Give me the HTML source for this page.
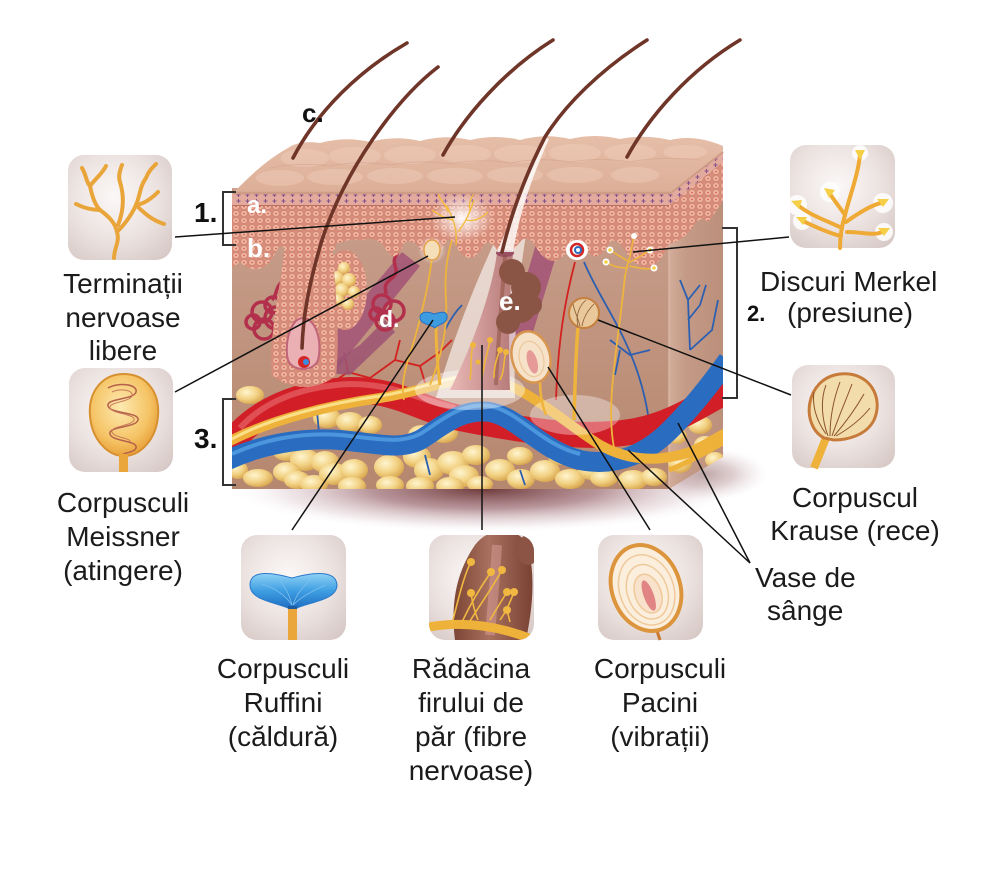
<!DOCTYPE html>
<html><head><meta charset="utf-8"><style>
html,body{margin:0;padding:0;background:#fff;}
svg{display:block;}
text{font-family:"Liberation Sans",Arial,sans-serif;}
</style></head><body>
<svg width="1000" height="870" viewBox="0 0 1000 870" xmlns="http://www.w3.org/2000/svg">
<defs>
 <pattern id="cells" width="8" height="7" patternUnits="userSpaceOnUse">
  <rect width="8" height="7" fill="#d88e7a"/>
  <ellipse cx="4" cy="3.5" rx="3.3" ry="3" fill="#efb5a0" stroke="#c97c6d" stroke-width="0.6"/>
  <circle cx="4" cy="3.5" r="0.8" fill="#c8503e"/>
 </pattern>
 <pattern id="stripe" width="9" height="6" patternUnits="userSpaceOnUse">
  <rect width="9" height="6" fill="#e3ab9d"/>
  <path d="M4.5,1 V5 M2.5,3 H6.5" stroke="#85528e" stroke-width="1.1"/>
 </pattern>
 <linearGradient id="derm" x1="0" y1="0" x2="0" y2="1">
  <stop offset="0" stop-color="#c9a08d"/><stop offset="1" stop-color="#b6876f"/>
 </linearGradient>
 <linearGradient id="side" x1="0" y1="0" x2="1" y2="0">
  <stop offset="0" stop-color="#d2ad9a"/><stop offset="0.3" stop-color="#c49b87"/><stop offset="1" stop-color="#bb8f7a"/>
 </linearGradient>
 <linearGradient id="topg" x1="0" y1="0" x2="0" y2="1">
  <stop offset="0" stop-color="#e6bea8"/><stop offset="1" stop-color="#dcae97"/>
 </linearGradient>
 <radialGradient id="fat" cx="0.38" cy="0.35" r="0.7">
  <stop offset="0" stop-color="#fff5cf"/><stop offset="0.55" stop-color="#f2d284"/><stop offset="1" stop-color="#d6a24a"/>
 </radialGradient>
 <radialGradient id="shadow" cx="0.5" cy="0.5" r="0.5">
  <stop offset="0" stop-color="#5e2424" stop-opacity="0.9"/>
  <stop offset="0.45" stop-color="#8a5058" stop-opacity="0.6"/>
  <stop offset="0.8" stop-color="#c8a8b0" stop-opacity="0.25"/>
  <stop offset="1" stop-color="#ffffff" stop-opacity="0"/>
 </radialGradient>
 <radialGradient id="boxbg" cx="0.45" cy="0.4" r="0.75">
  <stop offset="0" stop-color="#fbf8f7"/><stop offset="0.55" stop-color="#ece3e1"/><stop offset="1" stop-color="#d6c8c5"/>
 </radialGradient>
 <radialGradient id="glow" cx="0.5" cy="0.5" r="0.5">
  <stop offset="0" stop-color="#fff" stop-opacity="0.95"/><stop offset="1" stop-color="#fff" stop-opacity="0"/>
 </radialGradient>
 <radialGradient id="meis" cx="0.45" cy="0.4" r="0.6">
  <stop offset="0" stop-color="#fde9b0"/><stop offset="0.7" stop-color="#f5c466"/><stop offset="1" stop-color="#e9a23c"/>
 </radialGradient>
 <linearGradient id="ruff" x1="0" y1="0" x2="0" y2="1">
  <stop offset="0" stop-color="#8fd2f6"/><stop offset="0.5" stop-color="#3f9ee2"/><stop offset="1" stop-color="#1f6fc4"/>
 </linearGradient>
 <linearGradient id="fol" x1="0" y1="0" x2="1" y2="0">
  <stop offset="0" stop-color="#e9b8b6"/><stop offset="1" stop-color="#b57a78"/>
 </linearGradient>
 <linearGradient id="root" x1="0" y1="0" x2="1" y2="0">
  <stop offset="0" stop-color="#7c4534"/><stop offset="0.45" stop-color="#a8705e"/><stop offset="1" stop-color="#7a4233"/>
 </linearGradient>
 <clipPath id="block"><polygon points="232,188 669,188 723,146 723,457 669,489 232,489"/></clipPath>
 <clipPath id="c6"><rect x="429" y="535" width="105" height="105" rx="16"/></clipPath>
</defs>

<!-- shadow under block -->
<ellipse cx="485" cy="489" rx="255" ry="44" fill="url(#shadow)"/>
<ellipse cx="705" cy="474" rx="65" ry="28" fill="url(#shadow)" opacity="0.45"/>

<g clip-path="url(#block)">
 <rect x="232" y="188" width="437" height="302" fill="url(#derm)"/>
 <polygon points="669,190 723,148 723,457 669,489" fill="url(#side)"/>
 <line x1="669" y1="190" x2="669" y2="489" stroke="#d9b6a3" stroke-width="1.5"/>

 <g fill="url(#fat)">
  <ellipse cx="250" cy="395" rx="14" ry="9"/>
  <ellipse cx="327" cy="418" rx="14" ry="10"/><ellipse cx="350" cy="422" rx="14" ry="10"/><ellipse cx="370" cy="425" rx="12" ry="9"/>
  <ellipse cx="238" cy="470" rx="10" ry="9"/>
  <ellipse cx="287" cy="450" rx="15" ry="11"/><ellipse cx="305" cy="460" rx="15" ry="11"/><ellipse cx="325" cy="462" rx="14" ry="11"/>
  <ellipse cx="287" cy="472" rx="14" ry="10"/><ellipse cx="258" cy="478" rx="15" ry="9"/><ellipse cx="297" cy="480" rx="13" ry="9"/>
  <ellipse cx="314" cy="484" rx="14" ry="9"/><ellipse cx="334" cy="474" rx="15" ry="11"/><ellipse cx="354" cy="470" rx="14" ry="11"/>
  <ellipse cx="352" cy="486" rx="14" ry="9"/><ellipse cx="389" cy="467" rx="15" ry="12"/><ellipse cx="390" cy="485" rx="14" ry="9"/>
  <ellipse cx="417" cy="457" rx="14" ry="11"/><ellipse cx="429" cy="470" rx="15" ry="12"/><ellipse cx="420" cy="486" rx="14" ry="9"/>
  <ellipse cx="453" cy="463" rx="16" ry="12"/><ellipse cx="464" cy="476" rx="15" ry="11"/><ellipse cx="450" cy="486" rx="14" ry="9"/>
  <ellipse cx="476" cy="455" rx="14" ry="10"/><ellipse cx="422" cy="435" rx="14" ry="10"/><ellipse cx="444" cy="433" rx="14" ry="10"/>
  <ellipse cx="500" cy="470" rx="15" ry="11"/><ellipse cx="521" cy="479" rx="14" ry="10"/><ellipse cx="545" cy="471" rx="15" ry="11"/>
  <ellipse cx="570" cy="479" rx="15" ry="10"/><ellipse cx="592" cy="470" rx="14" ry="10"/><ellipse cx="607" cy="440" rx="14" ry="10"/>
  <ellipse cx="633" cy="480" rx="15" ry="10"/><ellipse cx="654" cy="477" rx="13" ry="9"/><ellipse cx="604" cy="478" rx="14" ry="9"/>
  <ellipse cx="520" cy="456" rx="13" ry="9"/><ellipse cx="560" cy="456" rx="12" ry="9"/><ellipse cx="480" cy="484" rx="13" ry="8"/>
  <ellipse cx="680" cy="463" rx="12" ry="10"/><ellipse cx="700" cy="425" rx="12" ry="9"/><ellipse cx="705" cy="445" rx="11" ry="9"/>
  <ellipse cx="677" cy="436" rx="10" ry="8"/><ellipse cx="715" cy="460" rx="10" ry="8"/>
 </g>

 <g stroke="#d2221f" stroke-width="1.8" fill="none">
  <path d="M325,388 L348,372 L370,378 L395,360 L420,366 L440,352"/>
  <path d="M348,372 L344,352 M395,360 L400,340 M370,378 L378,392 M420,366 L426,386 M440,352 L452,340"/>
  <path d="M575,262 C565,300 558,340 556,400"/>
 </g>
 <g stroke="#2d5fb0" stroke-width="1.8" fill="none">
  <path d="M312,360 C315,390 318,420 320,445"/>
  <path d="M584,262 C600,300 625,330 640,380 C646,400 650,420 650,440"/>
  <path d="M445,330 C450,320 455,312 462,305"/>
  <path d="M690,350 L688,300 L680,280 M688,300 L700,285 M688,320 L700,305 L706,285 M690,350 L712,330 L718,300"/>
  <path d="M610,340 L630,355 L650,350 M620,350 L615,375"/>
  <path d="M425,455 L430,475 M520,470 L525,485"/>
 </g>

 <path d="M228,447 C255,410 300,392 350,390 C400,390 420,410 460,418 C520,430 580,440 630,432 C670,426 700,405 728,390" fill="none" stroke="#d21f27" stroke-width="26"/>
 <path d="M240,428 C265,400 305,386 350,384 C395,384 420,400 455,408" fill="none" stroke="#e9777a" stroke-width="6" opacity="0.55"/>
 <path d="M228,460 C260,445 300,437 340,440 C380,444 400,450 420,440 C440,428 460,408 490,412 C520,418 540,450 580,460 C620,468 650,450 670,430 C690,410 710,385 728,360" fill="none" stroke="#2a6cc0" stroke-width="20"/>
 <path d="M232,454 C262,440 300,432 340,435 C380,439 400,444 420,434 C440,422 460,402 490,406 C520,412 540,444 580,454" fill="none" stroke="#5aa8ea" stroke-width="4" opacity="0.7"/>
 <path d="M228,442 C270,420 330,405 380,398 C420,392 450,378 480,378 C520,380 560,420 600,445 C630,462 660,462 690,452 C705,446 715,438 728,432" fill="none" stroke="#eeb23a" stroke-width="10"/>
 <path d="M232,439 C270,418 330,403 380,396 C420,390 450,375 480,375" fill="none" stroke="#fbe08a" stroke-width="3"/>
 <path d="M669,470 C690,462 710,450 728,440" fill="none" stroke="#eeb23a" stroke-width="5"/>

 <ellipse cx="470" cy="390" rx="55" ry="20" fill="#fff" opacity="0.4"/>
 <ellipse cx="575" cy="415" rx="45" ry="20" fill="#fff" opacity="0.35"/>

 <path d="M322,348 L402,252 L420,266 L338,368 Z" fill="#a45777" opacity="0.9"/>
 <path d="M318,372 L360,345 L385,320 L395,332 L350,375 Z" fill="#9c5272" opacity="0.85"/>
 <path d="M536,244 L556,256 L524,362 L505,350 Z" fill="#a45777" opacity="0.9"/>

 <g stroke="#b3304d" stroke-width="3.5" fill="none">
  <path d="M288,170 c-6,8 6,14 0,22 s6,14 0,22 s6,14 0,22 s6,14 0,22 s6,14 -4,22 s-6,14 -12,20"/>
  <path d="M396,168 c-6,8 6,14 0,22 s6,14 0,22 s6,14 0,22 s6,14 0,22 s6,14 -4,22 s-6,10 -6,16"/>
  <circle cx="262" cy="312" r="10"/><circle cx="276" cy="318" r="11"/><circle cx="264" cy="329" r="10"/><circle cx="273" cy="305" r="8"/><circle cx="253" cy="322" r="7"/>
  <circle cx="382" cy="304" r="9"/><circle cx="394" cy="311" r="10"/><circle cx="385" cy="321" r="9"/><circle cx="376" cy="314" r="6"/>
 </g>

 <ellipse cx="345" cy="290" rx="22" ry="40" fill="url(#cells)"/>
 <g fill="url(#fat)">
  <circle cx="337" cy="278" r="7"/><circle cx="349" cy="280" r="7"/><circle cx="342" cy="290" r="7"/><circle cx="354" cy="292" r="6"/>
  <circle cx="338" cy="300" r="6"/><circle cx="348" cy="304" r="6"/><circle cx="344" cy="268" r="6"/>
 </g>

 <path d="M285,245 L332,245 C336,290 340,340 336,376 Q305,398 272,376 C268,340 280,290 285,245 Z" fill="url(#cells)"/>
 <path d="M303,318 C318,320 322,345 318,360 C314,372 292,372 288,360 C284,345 290,318 303,318 Z" fill="#eab0b4" stroke="#c06478" stroke-width="2"/>
 <circle cx="304" cy="362" r="6" fill="#d42626"/><circle cx="306" cy="362" r="3" fill="#3a8ce0"/>

 <path d="M545,137 C520,190 470,280 436,398 L515,398 C512,300 528,200 549,139 Z" fill="#fff" opacity="0.6"/>
 <path d="M497,253 C492,290 475,340 450,390 L510,390 C508,340 510,290 513,253 Z" fill="url(#fol)"/>
 <ellipse cx="505" cy="253" rx="9" ry="4" fill="#9a5062"/>
 <path d="M505,255 C502,300 498,340 496,385" stroke="#8a4c3c" stroke-width="4" opacity="0.5" fill="none"/>
 <g fill="#8b5545">
  <circle cx="512" cy="272" r="13"/><circle cx="526" cy="287" r="15"/><circle cx="520" cy="307" r="16"/><circle cx="508" cy="322" r="12"/><circle cx="532" cy="305" r="10"/>
 </g>
 <g stroke="#f1b73c" stroke-width="1.6" fill="none">
  <path d="M470,380 C472,365 470,355 473,345 M482,378 C484,362 488,352 490,340 M494,378 C494,365 497,358 500,350 M500,380 C505,370 503,362 506,352"/>
 </g>
 <g fill="#f1b73c"><circle cx="473" cy="345" r="3"/><circle cx="490" cy="340" r="3"/><circle cx="500" cy="350" r="3"/><circle cx="506" cy="352" r="3"/><circle cx="478" cy="362" r="2.5"/></g>

 <g stroke="#efb43c" stroke-width="1.8" fill="none">
  <path d="M432,258 C428,290 418,330 408,360 C402,380 402,392 404,400"/>
  <path d="M456,228 C448,250 444,270 446,300 C448,330 440,360 430,385"/>
  <path d="M625,275 C622,310 615,350 612,390 C610,420 612,440 615,452"/>
  <path d="M578,328 C576,350 575,380 574,420" stroke-width="3.5"/>
  <path d="M436,322 C436,345 438,370 440,385" stroke-width="3"/>
  <path d="M540,382 C540,395 542,405 546,415" stroke-width="2.5"/>
 </g>

 <path d="M232,190 L669,190 L723,148 L723,200 Q716,212 708,222 Q700,214 692,228 Q684,240 669,244 Q648,290 622,246 Q615,238 610,242 Q596,268 582,246 Q578,238 572,244 Q553,278 534,244 Q528,236 522,240 L513,250 L497,250 Q492,240 484,244 Q470,272 455,244 Q450,236 446,242 Q432,270 418,246 Q410,238 404,243 Q395,268 384,246 Q376,236 362,240 Q350,238 336,244 L335,250 L286,250 Q282,244 278,248 Q262,282 240,262 L232,268 Z" fill="url(#cells)"/>
 <polygon points="232,192 669,192 723,150 723,162 669,205 232,205" fill="url(#stripe)"/>
 <line x1="232" y1="205.5" x2="669" y2="205.5" stroke="#b97060" stroke-width="1"/>

 <ellipse cx="462" cy="218" rx="32" ry="24" fill="url(#glow)"/>
 <g stroke="#f3bd3f" stroke-width="1.4" fill="none">
  <path d="M456,245 C458,230 452,215 446,205 M458,232 C466,222 470,212 474,200 M452,220 C444,218 438,214 432,210 M466,220 C474,222 482,218 488,212 M470,210 C468,202 472,196 476,190 M448,212 C446,204 440,200 438,194"/>
 </g>

 <ellipse cx="432" cy="250" rx="14" ry="14" fill="url(#glow)"/>
 <ellipse cx="432" cy="250" rx="8" ry="10" fill="#f5dfb8" stroke="#e6a24a" stroke-width="1.5"/>
 <path d="M420,318 C420,310 430,312 434,314 C440,312 448,310 447,318 C446,324 438,324 435,328 C430,324 420,324 420,318 Z" fill="#3d9be0" stroke="#2470c0" stroke-width="1"/>
 <ellipse cx="577" cy="250" rx="11" ry="10" fill="#fff"/>
 <circle cx="577" cy="250" r="6" fill="none" stroke="#d42626" stroke-width="2.5"/>
 <circle cx="578" cy="250" r="3" fill="none" stroke="#2a6cc0" stroke-width="2"/>
 <circle cx="584" cy="313" r="15" fill="#e9c89b" stroke="#c58040" stroke-width="2"/>
 <path d="M578,326 C575,315 580,305 586,300 M582,326 C584,315 590,308 594,304 M580,326 C578,318 574,310 573,304" stroke="#8a5a30" stroke-width="0.8" fill="none"/>
 <g transform="rotate(-15 531 357)">
  <ellipse cx="531" cy="357" rx="19" ry="26" fill="#f6e2c8" stroke="#d89550" stroke-width="2.5"/>
  <ellipse cx="531" cy="359" rx="12" ry="18" fill="none" stroke="#ecc79c" stroke-width="1.2"/>
  <ellipse cx="531" cy="362" rx="5" ry="12" fill="#e59a98"/>
 </g>
 <g stroke="#efb43c" stroke-width="1.6" fill="none">
  <path d="M625,278 C626,268 628,262 630,256 L634,236 M630,262 C622,258 616,254 610,250 M630,262 C638,258 644,254 650,250 M628,268 C618,268 612,266 606,262 M629,266 C640,268 646,270 654,268"/>
 </g>
 <g fill="#fff"><circle cx="634" cy="236" r="3"/><circle cx="610" cy="250" r="3.5"/><circle cx="650" cy="250" r="3.5"/><circle cx="606" cy="262" r="3.5"/><circle cx="654" cy="268" r="3.5"/></g>
 <g fill="#f5d347"><circle cx="610" cy="250" r="1.8"/><circle cx="650" cy="250" r="1.8"/><circle cx="606" cy="262" r="1.8"/><circle cx="654" cy="268" r="1.8"/></g>
</g>

<!-- top surface -->
<path d="M233,193 C248,178 266,160 288,148 Q300,140 320,143 Q345,136 370,142 Q395,135 420,141 Q445,134 470,140 Q495,134 520,140 Q545,133 570,139 Q595,133 620,139 Q645,134 670,140 Q695,134 723,146 L723,152 L671,194 L233,194 Z" fill="url(#topg)"/>
<g fill="#f2d2bf" opacity="0.4">
 <ellipse cx="305" cy="158" rx="24" ry="9"/><ellipse cx="355" cy="156" rx="26" ry="9"/><ellipse cx="410" cy="155" rx="26" ry="9"/>
 <ellipse cx="465" cy="154" rx="26" ry="9"/><ellipse cx="520" cy="154" rx="26" ry="9"/><ellipse cx="575" cy="153" rx="26" ry="9"/>
 <ellipse cx="630" cy="153" rx="26" ry="9"/><ellipse cx="685" cy="152" rx="22" ry="7"/>
 <ellipse cx="280" cy="178" rx="24" ry="8"/><ellipse cx="335" cy="177" rx="28" ry="8"/><ellipse cx="395" cy="176" rx="28" ry="8"/>
 <ellipse cx="455" cy="176" rx="28" ry="8"/><ellipse cx="515" cy="175" rx="28" ry="8"/><ellipse cx="575" cy="175" rx="28" ry="8"/>
 <ellipse cx="635" cy="175" rx="24" ry="8"/>
</g>
<g stroke="#d4a48e" stroke-width="1" fill="none" opacity="0.6">
 <path d="M270,168 Q300,162 330,166 Q360,160 390,165 Q420,159 450,164 Q480,158 510,163 Q540,157 570,162 Q600,157 630,162 Q660,156 700,160"/>
</g>
<path d="M233,193 L671,193" stroke="#cf9c86" stroke-width="2.5"/>
<path d="M671,193 L723,152" stroke="#cf9c86" stroke-width="2"/>
<path d="M545,137 C530,170 515,210 497,252 L513,252 C520,210 535,170 549,139 Z" fill="#fff" opacity="0.8"/>

<!-- hairs -->
<g stroke="#6e3528" stroke-width="3.6" fill="none" stroke-linecap="round">
 <path d="M407,43 C360,70 318,110 293,158"/>
 <path d="M438,67 C395,100 345,170 322,240 C307,290 303,320 302,348"/>
 <path d="M553,40 C505,70 465,115 443,155"/>
 <path d="M647,40 C600,70 565,105 545,137 C528,170 512,210 502,252"/>
 <path d="M740,40 C690,70 650,115 627,157"/>
</g>

<g font-weight="bold" fill="#fff">
 <text x="247" y="213" font-size="24">a.</text>
 <text x="247" y="257" font-size="26">b.</text>
 <text x="379" y="327" font-size="23">d.</text>
 <text x="499" y="310" font-size="26">e.</text>
</g>
<text x="302" y="122" font-size="26" font-weight="bold" fill="#111">c.</text>

<g stroke="#333" stroke-width="2" fill="none">
 <path d="M236,192 H223 V245 H236"/>
 <path d="M236,399 H223 V485 H236"/>
 <path d="M722,228 H737 V398 H722"/>
</g>
<g font-weight="bold" fill="#111">
 <text x="194" y="222" font-size="28">1.</text>
 <text x="194" y="448" font-size="28">3.</text>
 <text x="747" y="321" font-size="22">2.</text>
</g>

<g stroke="#111" stroke-width="1.5" fill="none">
 <line x1="175" y1="237" x2="455" y2="217"/>
 <line x1="175" y1="392" x2="428" y2="256"/>
 <line x1="633" y1="252" x2="789" y2="237"/>
 <line x1="598" y1="320" x2="791" y2="395"/>
 <line x1="433" y1="320" x2="292" y2="530"/>
 <line x1="482" y1="345" x2="482" y2="530"/>
 <line x1="548" y1="367" x2="650" y2="530"/>
 <line x1="628" y1="450" x2="750" y2="563"/>
 <line x1="678" y1="423" x2="750" y2="563"/>
</g>

<g fill="url(#boxbg)">
 <rect x="68" y="155" width="104" height="105" rx="16"/>
 <rect x="69" y="368" width="104" height="104" rx="16"/>
 <rect x="790" y="145" width="105" height="103" rx="16"/>
 <rect x="792" y="365" width="103" height="103" rx="16"/>
 <rect x="241" y="535" width="105" height="105" rx="16"/>
 <rect x="429" y="535" width="105" height="105" rx="16"/>
 <rect x="598" y="535" width="105" height="105" rx="16"/>
</g>

<g stroke="#e9a53a" stroke-width="4" fill="none" stroke-linecap="round">
 <path d="M114,258 C114,248 120,242 117,232 C115,222 108,216 100,210 C95,205 92,196 90,186"/>
 <path d="M117,232 C125,224 132,214 136,205 C140,196 140,186 146,178"/>
 <path d="M100,210 C92,210 84,208 76,204"/>
 <path d="M90,186 C86,182 86,174 82,168"/>
 <path d="M90,186 C96,178 102,174 106,166"/>
 <path d="M136,205 C144,204 152,198 158,192"/>
 <path d="M146,178 C148,172 152,168 156,164"/>
 <path d="M118,225 C124,210 124,195 120,182 C118,176 120,170 122,165"/>
 <path d="M136,205 C145,214 152,220 164,224"/>
</g>

<path d="M124,374 C146,374 160,392 158,416 C156,440 140,456 124,456 C108,456 92,440 90,416 C88,392 102,374 124,374 Z" fill="url(#meis)" stroke="#d7902f" stroke-width="2"/>
<path d="M108,388 c10,-6 30,-4 28,4 c-2,8 -30,6 -28,14 c2,8 32,6 30,14 c-2,8 -30,6 -28,14 c2,8 28,6 26,14 c-2,6 -18,4 -14,10" stroke="#b5604a" stroke-width="1.5" fill="none"/>
<path d="M112,392 c8,-4 22,-2 20,4 c-2,6 -24,6 -22,12 c2,6 26,6 24,12 c-2,6 -24,6 -22,12 c2,6 20,6 18,10" stroke="#c77a5a" stroke-width="1" fill="none"/>
<rect x="119" y="454" width="9" height="18" fill="#eaa63a"/>

<g fill="#fff" opacity="0.85">
 <circle cx="860" cy="153" r="8"/><circle cx="830" cy="192" r="10"/><circle cx="797" cy="205" r="10"/><circle cx="802" cy="221" r="9"/><circle cx="883" cy="203" r="10"/><circle cx="884" cy="232" r="9"/>
</g>
<g stroke="#eeaa35" stroke-width="4" fill="none" stroke-linecap="round">
 <path d="M840,248 C840,235 842,225 845,215 C850,195 858,175 860,155"/>
 <path d="M845,215 C838,205 834,200 830,194"/>
 <path d="M842,228 C825,220 810,215 799,206"/>
 <path d="M841,236 C825,232 812,225 803,221"/>
 <path d="M846,222 C860,212 872,205 881,203"/>
 <path d="M847,232 C862,232 874,236 882,232"/>
</g>
<g fill="#f5cf45">
 <path d="M855,150 L865,150 L860,160 Z"/><path d="M824,188 L835,190 L829,198 Z"/><path d="M791,201 L802,200 L799,209 Z"/>
 <path d="M796,217 L807,217 L803,225 Z"/><path d="M877,199 L889,199 L883,207 Z"/><path d="M878,228 L890,228 L884,236 Z"/>
</g>

<path d="M826,438 L814,468" stroke="#eeb23a" stroke-width="8"/>
<path d="M824,438 C800,425 805,378 840,374 C870,371 884,398 874,420 C866,436 846,440 834,440 Z" fill="#f2dcab" stroke="#c77b3a" stroke-width="3"/>
<g stroke="#8a5228" stroke-width="1" fill="none">
 <path d="M828,436 C822,420 820,400 826,385 M830,436 C830,415 834,398 840,382 M832,436 C838,418 846,400 852,384 M834,436 C846,422 856,408 864,394 M836,436 C850,428 862,418 870,408 M826,434 C816,420 812,405 814,392"/>
</g>

<rect x="288" y="606" width="9" height="34" fill="#eaa63a"/>
<path d="M250,585 C250,570 270,572 292,578 C314,572 336,570 337,585 C337,600 310,602 297,608 L288,608 C274,602 250,600 250,585 Z" fill="url(#ruff)" stroke="#2a78c8" stroke-width="1"/>
<g stroke="#7cc0ee" stroke-width="0.8" fill="none">
 <path d="M292,605 C285,595 275,588 262,584 M292,605 C290,595 285,588 280,580 M293,605 C296,595 302,588 310,580 M293,605 C302,596 314,590 326,585"/>
</g>
<rect x="288" y="606" width="9" height="3" fill="#1d5aa0"/>

<g clip-path="url(#c6)">
 <path d="M455,640 C450,600 458,570 475,545 C485,532 500,528 515,533 C526,538 530,550 531,562 C535,592 530,620 526,640 Z" fill="url(#root)"/>
 <ellipse cx="528" cy="550" rx="11" ry="15" fill="#8c5444"/>
 <path d="M497,545 C495,580 492,610 490,635" stroke="#e8b0b0" stroke-width="10" opacity="0.4" fill="none"/>
 <path d="M429,627 Q480,618 534,640" stroke="#eeb23a" stroke-width="9" fill="none"/>
 <g stroke="#f0b840" stroke-width="1.6" fill="none">
  <path d="M452,624 C458,600 464,575 471,562"/>
  <path d="M462,622 C470,605 482,585 491,572"/>
  <path d="M470,621 C480,605 494,585 502,570"/>
  <path d="M478,620 C474,610 472,600 471,593"/>
  <path d="M490,620 C496,610 502,600 507,592"/>
  <path d="M500,620 C506,612 511,600 514,592"/>
  <path d="M510,622 C509,618 508,614 507,610"/>
 </g>
 <g fill="#f0b840">
  <circle cx="471" cy="562" r="4"/><circle cx="491" cy="572" r="4"/><circle cx="502" cy="570" r="4"/><circle cx="471" cy="593" r="4"/>
  <circle cx="507" cy="592" r="4"/><circle cx="514" cy="592" r="4"/><circle cx="507" cy="610" r="4"/>
 </g>
</g>

<path d="M656,628 L660,640" stroke="#c97a30" stroke-width="3"/>
<g transform="rotate(-20 646 588)">
 <ellipse cx="646" cy="588" rx="34" ry="44" fill="#fbeedd" stroke="#dc953c" stroke-width="4"/>
 <ellipse cx="646" cy="590" rx="27" ry="36" fill="none" stroke="#efc99a" stroke-width="1.5"/>
 <ellipse cx="646" cy="592" rx="20" ry="28" fill="none" stroke="#efc99a" stroke-width="1.5"/>
 <ellipse cx="646" cy="594" rx="13" ry="20" fill="#f9e2cc" stroke="#efc99a" stroke-width="1.5"/>
 <ellipse cx="646" cy="596" rx="5" ry="16" fill="#e08484"/>
</g>

<g font-size="28" fill="#1b1b1b" text-anchor="middle">
 <text x="123" y="293">Terminații</text>
 <text x="123" y="327">nervoase</text>
 <text x="123" y="360">libere</text>
 <text x="123" y="512">Corpusculi</text>
 <text x="123" y="546">Meissner</text>
 <text x="123" y="580">(atingere)</text>
 <text x="855" y="507">Corpuscul</text>
 <text x="855" y="540">Krause (rece)</text>
 <text x="283" y="678">Corpusculi</text>
 <text x="283" y="712">Ruffini</text>
 <text x="283" y="746">(căldură)</text>
 <text x="471" y="678">Rădăcina</text>
 <text x="471" y="712">firului de</text>
 <text x="471" y="746">păr (fibre</text>
 <text x="471" y="780">nervoase)</text>
 <text x="660" y="678">Corpusculi</text>
 <text x="660" y="712">Pacini</text>
 <text x="660" y="746">(vibrații)</text>
</g>
<g font-size="28" fill="#1b1b1b">
 <text x="760" y="291">Discuri Merkel</text>
 <text x="787" y="322">(presiune)</text>
 <text x="755" y="587">Vase de</text>
 <text x="767" y="620">sânge</text>
</g>
</svg>
</body></html>
